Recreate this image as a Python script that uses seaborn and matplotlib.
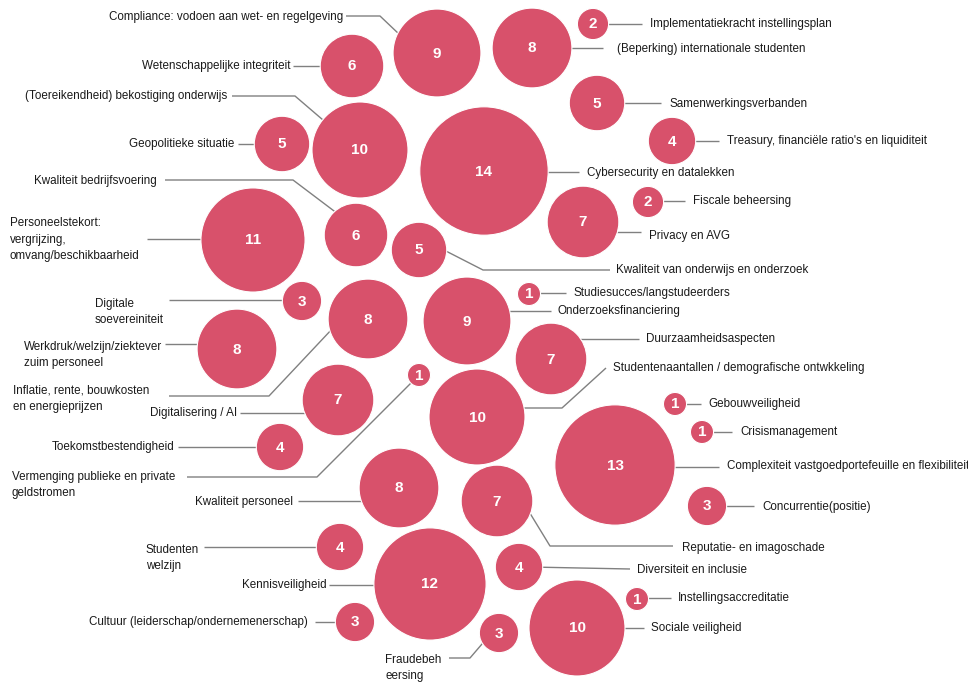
import numpy as np
import pandas as pd
import matplotlib
matplotlib.use("Agg")
import matplotlib.pyplot as plt
import seaborn as sns

# data
labels = [
    "Compliance: vodoen aan wet- en regelgeving",
    "Implementatiekracht instellingsplan",
    "(Beperking) internationale studenten",
    "Wetenschappelijke integriteit",
    "Samenwerkingsverbanden",
    "(Toereikendheid) bekostiging onderwijs",
    "Geopolitieke situatie",
    "Treasury, financiële ratio's en liquiditeit",
    "Cybersecurity en datalekken",
    "Kwaliteit bedrijfsvoering",
    "Fiscale beheersing",
    "Personeelstekort:\nvergrijzing,\nomvang/beschikbaarheid",
    "Privacy en AVG",
    "Kwaliteit van onderwijs en onderzoek",
    "Digitale\nsoevereiniteit",
    "Studiesucces/langstudeerders",
    "Onderzoeksfinanciering",
    "Werkdruk/welzijn/ziektever\nzuim personeel",
    "Duurzaamheidsaspecten",
    "Inflatie, rente, bouwkosten\nen energieprijzen",
    "Studentenaantallen / demografische ontwkkeling",
    "Digitalisering / AI",
    "Vermenging publieke en private\ngeldstromen",
    "Gebouwveiligheid",
    "Crisismanagement",
    "Toekomstbestendigheid",
    "Complexiteit vastgoedportefeuille en flexibiliteit",
    "Kwaliteit personeel",
    "Concurrentie(positie)",
    "Reputatie- en imagoschade",
    "Studenten\nwelzijn",
    "Diversiteit en inclusie",
    "Kennisveiligheid",
    "Instellingsaccreditatie",
    "Cultuur (leiderschap/ondernemenerschap)",
    "Sociale veiligheid",
    "Fraudebeh\neersing",
]
values = [9, 2, 8, 6, 5, 10, 5, 4, 14, 6, 2, 11, 7, 5, 3, 1, 9, 8, 7, 8,
          10, 7, 1, 1, 1, 4, 13, 8, 3, 7, 4, 4, 12, 1, 3, 10, 3]

# layout (pixel space of the 968x683 canvas)
bubble_x = [437, 593, 532, 352, 597, 360, 282, 672, 484, 356, 648, 253, 583, 419, 302,
            529, 467, 237, 551, 368, 477, 338, 419, 675, 702, 280, 615, 399, 707, 497,
            340, 519, 430, 637, 355, 577, 499]
bubble_y = [53, 24, 48, 66, 103, 150, 144, 141, 171, 235, 202, 240, 222, 250, 301,
            294, 321, 349, 359, 319, 417, 400, 375, 404, 432, 447, 465, 488, 506, 501,
            547, 567, 584, 599, 622, 628, 633]
label_x = [343, 650, 617, 290, 669, 227, 234, 727, 587, 157, 693, 10, 649, 616, 95,
           573, 557, 24, 646, 13, 613, 237, 12, 708, 740, 175, 727, 293, 762, 682,
           146, 637, 327, 678, 308, 651, 385]
label_y = [17, 24, 49, 66, 104, 96, 144, 141, 173, 181, 201, 240, 236, 270, 312,
           293, 311, 355, 339, 399, 368, 413, 485, 404, 432, 447, 466, 502, 507, 548,
           558, 570, 585, 598, 622, 628, 668]
label_ha = ["right", "left", "left", "right", "left", "right", "right", "left", "left", "right",
            "left", "left", "left", "left", "left", "left", "left", "left", "left", "left",
            "left", "right", "left", "left", "left", "right", "left", "right", "left", "left",
            "left", "left", "right", "left", "right", "left", "left"]
leaders = [
    [(346, 16), (380, 16), (400, 35)],
    [(642, 24), (600, 24)],
    [(603, 48), (560, 48)],
    [(293, 66), (330, 66)],
    [(661, 103), (610, 103)],
    [(232, 96), (295, 96), (330, 126)],
    [(238, 144), (265, 144)],
    [(719, 141), (685, 141)],
    [(579, 172), (530, 172)],
    [(165, 180), (293, 180), (342, 217)],
    [(685, 201), (655, 201)],
    [(147, 239), (230, 239)],
    [(641, 232), (605, 232)],
    [(610, 270), (483, 270), (440, 248)],
    [(169, 300), (290, 300)],
    [(566, 293), (535, 293)],
    [(551, 311), (500, 311)],
    [(165, 344), (215, 344)],
    [(639, 339), (570, 339)],
    [(169, 396), (269, 396), (333, 328)],
    [(606, 368), (562, 408), (505, 408)],
    [(240, 413), (320, 413)],
    [(187, 477), (317, 477), (415, 379)],
    [(701, 404), (680, 404)],
    [(732, 432), (708, 432)],
    [(178, 447), (265, 447)],
    [(719, 467), (650, 467)],
    [(298, 501), (375, 501)],
    [(754, 506), (715, 506)],
    [(673, 546), (550, 546), (528, 510)],
    [(204, 547), (325, 547)],
    [(630, 569), (530, 567)],
    [(329, 585), (400, 585)],
    [(671, 598), (645, 598)],
    [(315, 622), (345, 622)],
    [(644, 628), (600, 628)],
    [(449, 658), (470, 658), (488, 637)],
]

W, H, DPI = 968, 683, 100
bubble_color = "#D8516B"

df = pd.DataFrame({"label": labels, "value": values, "x": bubble_x, "y": bubble_y})
# bubble radius grows linearly with the value (px), converted to marker area in pt^2
radius_px = 7.5 + 4.05 * df["value"]
df["area"] = (2 * radius_px * 72 / DPI) ** 2

sns.set_style("white")
plt.rcParams["font.family"] = ["Liberation Sans", "DejaVu Sans"]

fig = plt.figure(figsize=(W / DPI, H / DPI), dpi=DPI)
ax = fig.add_axes([0, 0, 1, 1])

for pts in leaders:
    xs, ys = zip(*pts)
    ax.plot(xs, ys, color="#808080", lw=1.0, zorder=1, solid_capstyle="butt")

sns.scatterplot(data=df, x="x", y="y", s=df["area"].to_numpy(), color=bubble_color,
                edgecolor="white", linewidth=0.8, alpha=1, legend=False, ax=ax, zorder=3)

for _, row in df.iterrows():
    ax.text(row["x"], row["y"] + 0.5, str(row["value"]), color="white", fontsize=11,
            fontweight="bold", ha="center", va="center", zorder=4)

for lab, lx, ly, ha in zip(labels, label_x, label_y, label_ha):
    ax.text(lx, ly, lab, ha=ha, va="center", fontsize=8.4, color="#1a1a1a",
            linespacing=1.5, zorder=4)

ax.set_xlim(0, W)
ax.set_ylim(H, 0)
ax.axis("off")

fig.savefig("out.png", dpi=DPI, facecolor="white")
